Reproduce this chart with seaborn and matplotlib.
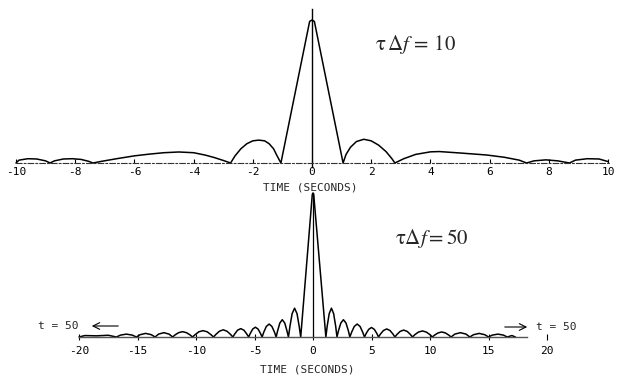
import matplotlib
matplotlib.use("Agg")
import matplotlib.pyplot as plt
import seaborn as sns
import pandas as pd

# ---------------- data ----------------
top_x = [-10.0, -9.9, -9.6, -9.3, -9.0, -8.85,
         -8.7, -8.4, -8.1, -7.8, -7.55, -7.4,
         -7.1, -6.6, -6.0, -5.5, -5.0, -4.5, -4.0, -3.6, -3.3, -3.0, -2.75,
         -2.6, -2.4, -2.2, -2.0, -1.8, -1.6, -1.45, -1.3, -1.18, -1.05,
         -0.08, 0.0, 0.08,
         1.05, 1.15, 1.3, 1.5, 1.75, 2.0, 2.25, 2.5, 2.7, 2.8,
         3.1, 3.5, 4.0, 4.3, 5.0, 5.9, 6.5, 7.0, 7.25,
         7.5, 7.9, 8.3, 8.7,
         8.9, 9.3, 9.7, 10.0]
top_y = [0.0, 0.02, 0.03, 0.028, 0.015, 0.0,
         0.015, 0.028, 0.03, 0.025, 0.012, 0.0,
         0.012, 0.03, 0.05, 0.062, 0.072, 0.077, 0.072, 0.055, 0.038, 0.018, 0.0,
         0.05, 0.1, 0.135, 0.155, 0.16, 0.155, 0.135, 0.1, 0.05, 0.0,
         0.99, 1.0, 0.99,
         0.0, 0.06, 0.11, 0.15, 0.166, 0.155, 0.125, 0.08, 0.03, 0.0,
         0.03, 0.06, 0.078, 0.08, 0.07, 0.056, 0.04, 0.02, 0.0,
         0.015, 0.022, 0.015, 0.0,
         0.02, 0.03, 0.028, 0.01]

bot_x = [-20.0, -19.5, -18.5, -17.5, -16.8,
         -16.46, -15.95, -15.44, -15.1,
         -14.78, -14.3, -13.82, -13.5,
         -13.2, -12.75, -12.3, -12.0,
         -11.8, -11.49, -11.15, -10.81, -10.5, -10.3,
         -10.08, -9.76, -9.4, -9.04, -8.72, -8.5,
         -8.30, -8.0, -7.675, -7.35, -7.05, -6.85,
         -6.69, -6.45, -6.175, -5.9, -5.66, -5.5,
         -5.36, -5.155, -4.925, -4.695, -4.49, -4.35,
         -4.21, -3.99, -3.75, -3.51, -3.29, -3.15,
         -3.02, -2.835, -2.625, -2.415, -2.23, -2.1,
         -1.97, -1.785, -1.575, -1.365, -1.18, -1.05,
         -0.06, 0.0, 0.06, 1.1,
         1.21, 1.385, 1.575, 1.765, 1.94, 2.05,
         2.18, 2.38, 2.6, 2.82, 3.02, 3.15,
         3.3, 3.525, 3.775, 4.025, 4.25, 4.4,
         4.54, 4.76, 5.0, 5.24, 5.46, 5.6,
         5.77, 6.02, 6.3, 6.58, 6.83, 7.0,
         7.18, 7.45, 7.75, 8.05, 8.32, 8.5,
         8.7, 9.01, 9.35, 9.69, 10.0, 10.2,
         10.39, 10.68, 11.0, 11.32, 11.61, 11.8,
         12.12, 12.6, 13.08, 13.4,
         13.72, 14.2, 14.68, 15.0,
         15.32, 15.8, 16.28, 16.6,
         17.0, 17.3]
bot_y = [0.0, 0.01, 0.008, 0.012, 0.0,
         0.013, 0.02, 0.013, 0.0,
         0.016, 0.025, 0.016, 0.0,
         0.02, 0.03, 0.02, 0.0,
         0.014, 0.03, 0.037, 0.03, 0.014, 0.0,
         0.016, 0.036, 0.044, 0.036, 0.016, 0.0,
         0.018, 0.04, 0.05, 0.04, 0.018, 0.0,
         0.021, 0.047, 0.058, 0.047, 0.021, 0.0,
         0.025, 0.055, 0.068, 0.055, 0.025, 0.0,
         0.033, 0.073, 0.09, 0.073, 0.033, 0.0,
         0.044, 0.097, 0.12, 0.097, 0.044, 0.0,
         0.074, 0.162, 0.20, 0.162, 0.074, 0.0,
         0.99, 1.0, 0.99, 0.0,
         0.074, 0.162, 0.20, 0.162, 0.074, 0.0,
         0.044, 0.097, 0.12, 0.097, 0.044, 0.0,
         0.033, 0.073, 0.09, 0.073, 0.033, 0.0,
         0.024, 0.053, 0.066, 0.053, 0.024, 0.0,
         0.021, 0.045, 0.056, 0.045, 0.021, 0.0,
         0.018, 0.039, 0.048, 0.039, 0.018, 0.0,
         0.016, 0.034, 0.042, 0.034, 0.016, 0.0,
         0.013, 0.028, 0.035, 0.028, 0.013, 0.0,
         0.02, 0.03, 0.02, 0.0,
         0.016, 0.025, 0.016, 0.0,
         0.013, 0.02, 0.013, 0.0,
         0.01, 0.0]

top_ticks = [-10, -8, -6, -4, -2, 0, 2, 4, 6, 8, 10]
top_tick_labels = ["-10", "-8", "-6", "-4", "-2", "0", "2", "4", "6", "8", "10"]
bot_ticks = [-20, -15, -10, -5, 0, 5, 10, 15, 20]
bot_tick_labels = ["-20", "-15", "-10", "-5", "0", "5", "10", "15", "20"]

top_title = r"$\mathrm{\tau}\,\Delta f\,=\,10$"
bot_title = r"$\mathrm{\tau}\Delta f = 50$"
xlabel = "TIME (SECONDS)"
arrow_label = "t = 50"

# ---------------- style ----------------
sns.set_style("white")
plt.rcParams["font.family"] = ["DejaVu Sans Mono"]
plt.rcParams["mathtext.fontset"] = "stix"

W, H = 624, 380
fig = plt.figure(figsize=(W / 100, H / 100), dpi=100)

# top panel: pixel rows 0..200, baseline at 163, peak at 20; x0 = 312 px, 29.6 px/unit
ax1 = fig.add_axes([0, 1 - 200 / H, 1, 200 / H])
ax1.patch.set_alpha(0)
ax1.set_xlim(-312 / 29.6, (W - 312) / 29.6)
ax1.set_ylim(-37 / 143, 163 / 143)
sns.lineplot(data=pd.DataFrame({"t": top_x, "a": top_y}), x="t", y="a",
             ax=ax1, color="black", linewidth=1.1, sort=False, estimator=None)

# bottom panel: pixel rows 180..380, baseline at 337, peak at 193; x0 = 313 px, 11.7 px/unit
ax2 = fig.add_axes([0, 0, 1, 200 / H])
ax2.patch.set_alpha(0)
ax2.set_xlim(-313 / 11.7, (W - 313) / 11.7)
ax2.set_ylim(-43 / 144, 157 / 144)
sns.lineplot(data=pd.DataFrame({"t": bot_x, "a": bot_y}), x="t", y="a",
             ax=ax2, color="black", linewidth=1.1, sort=False, estimator=None)

for ax in (ax1, ax2):
    ax.set_ylabel("")
    ax.spines["top"].set_visible(False)
    ax.spines["right"].set_visible(False)
    ax.spines["bottom"].set_position(("data", 0))
    ax.spines["left"].set_position(("data", 0))
    ax.set_yticks([])

# top axis
ax1.spines["bottom"].set_bounds(-10, 10.05)
ax1.spines["bottom"].set_linestyle((0, (5, 2, 1.5, 2)))
ax1.spines["bottom"].set_linewidth(0.8)
ax1.spines["bottom"].set_color("#333333")
ax1.spines["left"].set_bounds(-0.03, 1.08)
ax1.spines["left"].set_linewidth(1.0)
ax1.spines["left"].set_color("black")
ax1.set_xticks(top_ticks)
ax1.set_xticklabels(top_tick_labels)
ax1.tick_params(axis="x", direction="in", length=3, width=0.8, pad=3,
                labelsize=8, colors="black", bottom=True)
ax1.set_xlabel(xlabel, fontsize=8)
ax1.xaxis.set_label_coords(310 / W, (200 - 182) / 200)
ax1.text((375 - 312) / 29.6, (163 - 45) / 143, top_title,
         fontsize=15, ha="left", va="center")

# bottom axis
ax2.spines["bottom"].set_bounds(-20, 18.3)
ax2.spines["bottom"].set_linewidth(1.0)
ax2.spines["bottom"].set_color("#555555")
ax2.spines["left"].set_bounds(0, 1.0)
ax2.spines["left"].set_linewidth(0.9)
ax2.spines["left"].set_color("black")
ax2.set_xticks(bot_ticks)
ax2.set_xticklabels(bot_tick_labels)
ax2.tick_params(axis="x", direction="inout", length=5, width=0.8, pad=4,
                labelsize=8, colors="black", bottom=True)
ax2.set_xlabel(xlabel, fontsize=8)
ax2.xaxis.set_label_coords(307 / W, (380 - 365) / 200)
ax2.text((395 - 313) / 11.7, (337 - 238) / 144, bot_title,
         fontsize=15, ha="left", va="center")

# "t = 50" arrows
ax2.text((38 - 313) / 11.7, (337 - 326) / 144, arrow_label, fontsize=8,
         ha="left", va="center")
ax2.annotate("", xy=((89 - 313) / 11.7, (337 - 326) / 144),
             xytext=((121 - 313) / 11.7, (337 - 326) / 144),
             arrowprops=dict(arrowstyle="->", lw=0.8, color="black",
                             mutation_scale=12))
ax2.annotate("", xy=((530 - 313) / 11.7, (337 - 327) / 144),
             xytext=((502 - 313) / 11.7, (337 - 327) / 144),
             arrowprops=dict(arrowstyle="->", lw=0.8, color="black",
                             mutation_scale=12))
ax2.text((536 - 313) / 11.7, (337 - 327) / 144, arrow_label, fontsize=8,
         ha="left", va="center")

fig.savefig("out.png", dpi=100)
